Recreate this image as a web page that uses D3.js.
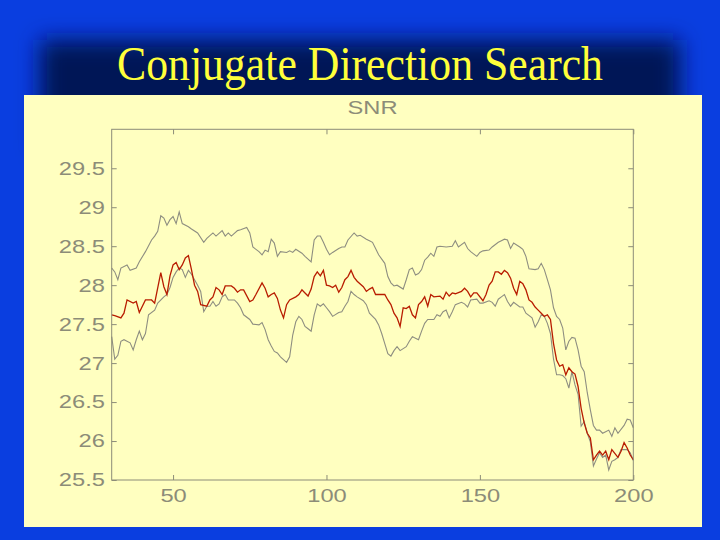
<!DOCTYPE html>
<html>
<head>
<meta charset="utf-8">
<script src="https://cdn.jsdelivr.net/npm/d3@7"></script>
<style>
  html, body { margin: 0; padding: 0; background: #0a3ee0; }
  svg { display: block; }
</style>
</head>
<body>
<svg id="chart" width="720" height="540"></svg>
<script>
// ---- data ----
const slideTitle = "Conjugate Direction Search";
const chartTitle = "SNR";
const xTicks = [50, 100, 150, 200];
const yTicks = [25.5, 26, 26.5, 27, 27.5, 28, 28.5, 29, 29.5];
const yTickLabels = ["25.5", "26", "26.5", "27", "27.5", "28", "28.5", "29", "29.5"];
const xDomain = [30, 200];
const yDomain = [25.5, 30];

// middle (red) series: [iteration, SNR]
const meanSeries = [
 [30,27.62],[31,27.61],[33,27.58],[34,27.64],[35,27.81],[37,27.77],[38,27.79],[39,27.65],[41,27.81],[43,27.81],
 [44,27.77],[46,28.16],[47,27.98],[48,27.88],[49,28.12],[50,28.26],[51,28.29],[52,28.20],[53,28.26],[54,28.35],
 [55,28.38],[56,28.20],[57,28.00],[58,27.92],[59,27.75],[61,27.73],[62,27.81],[63,27.85],[64,27.97],[65,27.94],
 [66,27.88],[67,27.99],[69,27.99],[70,27.96],[71,27.91],[72,27.94],[73,27.94],[75,27.79],[76,27.81],[77,27.88],
 [79,28.03],[80,27.96],[81,27.85],[82,27.88],[83,27.90],[84,27.83],[85,27.68],[86,27.58],[87,27.75],[88,27.81],
 [90,27.85],[91,27.88],[92,27.94],[93,27.90],[94,27.86],[95,27.95],[96,28.11],[97,28.17],[98,28.12],[99,28.19],
 [100,28.00],[101,27.99],[102,27.97],[103,28.00],[104,27.91],[105,27.97],[106,28.07],[107,28.11],[108,28.19],[109,28.10],
 [110,28.05],[112,27.98],[113,27.92],[114,27.95],[115,27.97],[116,27.88],[117,27.88],[119,27.88],[120,27.81],[121,27.75],
 [122,27.64],[123,27.58],[124,27.47],[125,27.71],[126,27.70],[127,27.73],[128,27.62],[129,27.58],[130,27.75],[131,27.79],
 [132,27.85],[133,27.73],[134,27.88],[135,27.85],[137,27.86],[138,27.82],[139,27.91],[140,27.86],[141,27.90],[142,27.89],
 [144,27.92],[145,27.96],[146,27.92],[147,27.85],[148,27.90],[149,27.90],[151,27.80],[152,27.88],[153,28.00],[154,28.05],
 [155,28.17],[156,28.17],[157,28.14],[158,28.19],[159,28.16],[160,28.09],[161,27.96],[162,27.88],[163,28.05],[164,28.02],
 [165,27.94],[166,27.81],[167,27.78],[168,27.72],[169,27.68],[170,27.64],[171,27.60],[172,27.62],[173,27.56],[174,27.25],
 [175,27.04],[176,26.96],[177,26.98],[178,26.85],[179,26.94],[180,26.89],[181,26.86],[182,26.70],[183,26.42],[184,26.23],
 [185,26.10],[186,26.04],[187,25.76],[188,25.82],[189,25.87],[190,25.82],[191,25.87],[192,25.76],[193,25.89],[195,25.79],
 [196,25.87],[197,25.98],[198,25.91],[199,25.82],[200,25.76]
];

// upper (gray) series
const upperSeries = [
 [30,28.22],[31,28.17],[32,28.07],[33,28.22],[35,28.26],[36,28.19],[38,28.22],[39,28.30],[41,28.43],[43,28.58],
 [44,28.63],[45,28.69],[46,28.89],[47,28.86],[48,28.77],[49,28.84],[50,28.88],[51,28.79],[52,28.94],[53,28.79],
 [55,28.75],[56,28.72],[58,28.67],[60,28.55],[61,28.60],[63,28.67],[64,28.63],[66,28.70],[67,28.63],[68,28.67],
 [69,28.63],[71,28.70],[72,28.71],[74,28.74],[75,28.67],[76,28.49],[78,28.43],[79,28.39],[80,28.45],[81,28.43],
 [82,28.59],[83,28.54],[84,28.37],[85,28.43],[87,28.42],[88,28.44],[89,28.42],[90,28.46],[92,28.41],[93,28.37],
 [95,28.30],[96,28.58],[97,28.63],[98,28.63],[99,28.55],[100,28.46],[101,28.39],[102,28.42],[104,28.47],[105,28.49],
 [106,28.49],[107,28.58],[109,28.67],[110,28.63],[111,28.64],[113,28.59],[114,28.57],[115,28.55],[116,28.47],[117,28.39],
 [119,28.28],[120,28.11],[121,28.03],[122,27.99],[123,28.00],[125,27.95],[126,28.07],[127,28.20],[128,28.22],[129,28.13],
 [130,28.15],[131,28.20],[132,28.32],[133,28.36],[134,28.41],[135,28.37],[136,28.49],[137,28.50],[139,28.49],[141,28.50],
 [142,28.57],[143,28.49],[145,28.55],[146,28.47],[147,28.43],[149,28.37],[150,28.42],[151,28.44],[153,28.45],[154,28.49],
 [156,28.55],[157,28.57],[158,28.59],[159,28.58],[160,28.47],[161,28.54],[163,28.49],[164,28.46],[165,28.37],[166,28.21],
 [168,28.20],[169,28.21],[170,28.28],[171,28.20],[172,28.07],[173,27.94],[174,27.71],[175,27.60],[176,27.56],[177,27.45],
 [178,27.17],[179,27.28],[180,27.33],[181,27.32],[182,27.17],[183,26.96],[184,26.89],[185,26.62],[186,26.40],[187,26.20],
 [188,26.14],[189,26.14],[190,26.10],[191,26.12],[192,26.14],[193,26.06],[194,26.17],[195,26.10],[197,26.20],[198,26.28],
 [199,26.27],[200,26.17]
];

// lower (gray) series
const lowerSeries = [
 [30,27.34],[31,27.05],[32,27.10],[33,27.28],[34,27.30],[36,27.26],[37,27.17],[38,27.30],[39,27.41],[40,27.30],
 [41,27.38],[42,27.62],[44,27.68],[45,27.77],[47,27.85],[48,27.88],[49,27.97],[50,28.10],[51,28.17],[52,28.22],
 [53,28.20],[54,28.10],[55,28.19],[56,28.14],[57,28.07],[58,28.00],[59,27.92],[60,27.66],[61,27.73],[62,27.73],
 [63,27.79],[64,27.73],[65,27.76],[66,27.85],[67,27.88],[68,27.81],[70,27.81],[71,27.77],[72,27.71],[73,27.62],
 [75,27.56],[76,27.50],[78,27.49],[79,27.52],[80,27.43],[81,27.30],[82,27.22],[83,27.15],[84,27.13],[85,27.08],
 [87,27.01],[88,27.08],[89,27.36],[90,27.53],[91,27.60],[92,27.56],[93,27.47],[94,27.44],[95,27.41],[96,27.62],
 [97,27.76],[98,27.73],[99,27.76],[100,27.71],[101,27.66],[102,27.60],[104,27.65],[105,27.66],[106,27.73],[107,27.79],
 [108,27.92],[109,27.88],[110,27.85],[112,27.80],[113,27.75],[114,27.64],[116,27.56],[117,27.49],[118,27.38],[119,27.25],
 [120,27.12],[121,27.09],[122,27.16],[123,27.21],[124,27.16],[126,27.21],[127,27.28],[128,27.34],[129,27.32],[130,27.30],
 [131,27.41],[132,27.51],[133,27.56],[135,27.56],[136,27.62],[137,27.60],[138,27.66],[139,27.68],[140,27.58],[141,27.66],
 [142,27.75],[144,27.78],[145,27.76],[146,27.72],[147,27.81],[149,27.82],[150,27.77],[151,27.77],[153,27.80],[154,27.78],
 [155,27.73],[156,27.82],[157,27.85],[158,27.88],[159,27.79],[160,27.73],[161,27.78],[163,27.72],[164,27.72],[165,27.64],
 [167,27.58],[168,27.46],[169,27.53],[170,27.62],[171,27.60],[172,27.51],[173,27.38],[174,27.05],[175,26.85],[176,26.85],
 [177,26.84],[178,26.80],[179,26.68],[180,26.89],[181,26.72],[182,26.60],[183,26.19],[184,26.25],[185,26.10],[186,25.99],
 [187,25.68],[188,25.77],[189,25.85],[190,25.79],[191,25.82],[192,25.63],[193,25.74],[194,25.76],[195,25.79],[196,25.89],
 [198,25.89],[199,25.85],[200,25.75]
];

// ---- drawing ----
(function draw() {
  const svg = d3.select("#chart");
  const W = 720, H = 540;
  const axisColor = "#8c8c78";
  const grayLine = "#8e8e80";
  const redLine = "#b81c00";
  const stretch = 1.28;

  const defs = svg.append("defs");
  const blur = defs.append("filter").attr("id", "soft")
    .attr("x", "-20%").attr("y", "-50%").attr("width", "140%").attr("height", "200%");
  blur.append("feGaussianBlur").attr("stdDeviation", 11);

  // background
  svg.append("rect").attr("width", W).attr("height", H).attr("fill", "#0a3ee0");
  svg.append("rect").attr("x", 40).attr("y", 40).attr("width", 640).attr("height", 110)
    .attr("fill", "#001556").attr("filter", "url(#soft)");

  // slide title
  svg.append("text")
    .attr("x", 360).attr("y", 80)
    .attr("text-anchor", "middle")
    .attr("font-family", "'Liberation Serif', 'Times New Roman', serif")
    .attr("font-size", 49)
    .attr("fill", "#ffff3a")
    .attr("textLength", 486).attr("lengthAdjust", "spacingAndGlyphs")
    .text(slideTitle);

  // panel
  svg.append("rect").attr("x", 24).attr("y", 95).attr("width", 678).attr("height", 432)
    .attr("fill", "#ffffc0");

  const pLeft = 111.7, pRight = 633.3, pTop = 129.3, pBottom = 480;
  const x = d3.scaleLinear().domain(xDomain).range([pLeft, pRight]);
  const y = d3.scaleLinear().domain(yDomain).range([pBottom, pTop]);

  const g = svg.append("g");

  // lines
  const line = d3.line().x(d => x(d[0])).y(d => y(d[1]));
  g.append("path").datum(upperSeries).attr("d", line)
    .attr("fill", "none").attr("stroke", grayLine).attr("stroke-width", 1.1);
  g.append("path").datum(lowerSeries).attr("d", line)
    .attr("fill", "none").attr("stroke", grayLine).attr("stroke-width", 1.1);
  g.append("path").datum(meanSeries).attr("d", line)
    .attr("fill", "none").attr("stroke", redLine).attr("stroke-width", 1.3);

  // axes
  const fontFam = "'Liberation Sans', Arial, Helvetica, sans-serif";
  function styleAxis(sel, showText) {
    sel.select(".domain").remove();
    sel.selectAll(".tick line").attr("stroke", axisColor);
    sel.selectAll(".tick text")
      .attr("fill", axisColor)
      .attr("font-family", fontFam)
      .attr("font-size", 18.5)
      .attr("transform", `scale(${stretch},1)`);
    if (!showText) sel.selectAll(".tick text").remove();
  }

  const yAxisL = d3.axisLeft(y).tickValues(yTicks)
    .tickFormat((d, i) => yTickLabels[i]).tickSize(-5).tickPadding(5.3);
  g.append("g").attr("transform", `translate(${pLeft},0)`).call(yAxisL).call(s => styleAxis(s, true));

  const yAxisR = d3.axisRight(y).tickValues(yTicks).tickSize(-5);
  g.append("g").attr("transform", `translate(${pRight},0)`).call(yAxisR).call(s => styleAxis(s, false));

  const xAxisB = d3.axisBottom(x).tickValues(xTicks).tickFormat(d3.format("d")).tickSize(-5).tickPadding(9);
  g.append("g").attr("transform", `translate(0,${pBottom})`).call(xAxisB).call(s => styleAxis(s, true));

  const xAxisT = d3.axisTop(x).tickValues(xTicks).tickSize(-5);
  g.append("g").attr("transform", `translate(0,${pTop})`).call(xAxisT).call(s => styleAxis(s, false));

  // frame
  g.append("rect").attr("x", pLeft).attr("y", pTop)
    .attr("width", pRight - pLeft).attr("height", pBottom - pTop)
    .attr("fill", "none").attr("stroke", axisColor).attr("stroke-width", 1);

  // chart title
  const cx = (pLeft + pRight) / 2;
  svg.append("text")
    .attr("x", cx / stretch).attr("y", 114)
    .attr("transform", `scale(${stretch},1)`)
    .attr("text-anchor", "middle")
    .attr("font-family", fontFam)
    .attr("font-size", 18.5)
    .attr("fill", axisColor)
    .text(chartTitle);
})();
</script>
</body>
</html>
